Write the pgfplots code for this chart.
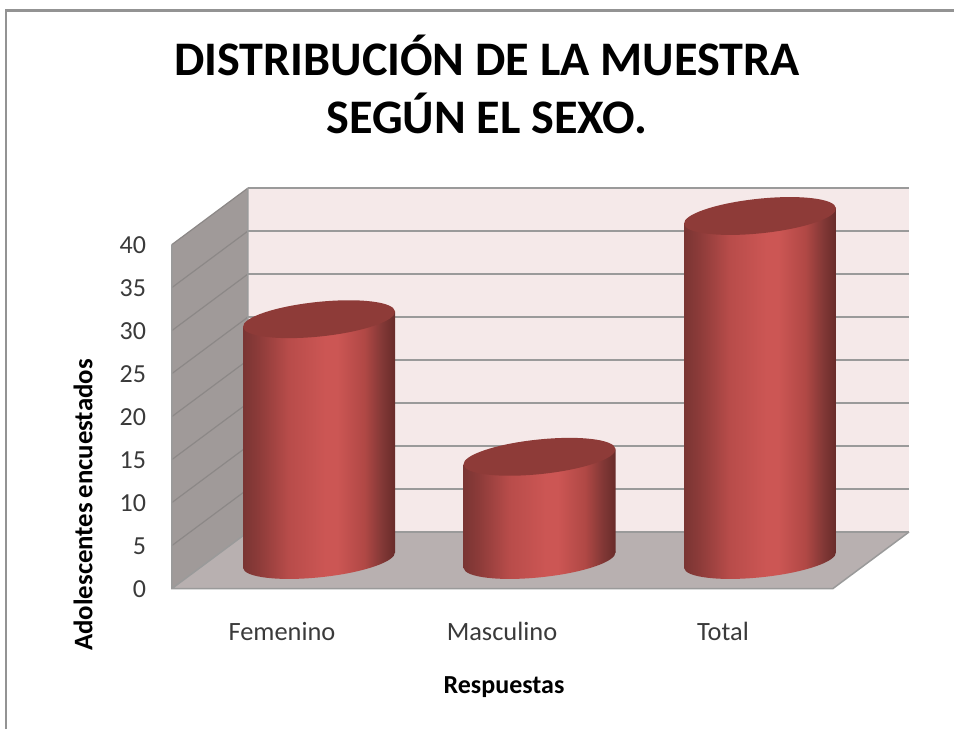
\documentclass[border=0pt]{standalone}
\usepackage{fontspec}
\setmainfont{Carlito}
\usepackage{pgfplots}
\pgfplotsset{compat=1.18}
\definecolor{wallback}{HTML}{F5E9E9}
\definecolor{wallside}{HTML}{A09A99}
\definecolor{floorc}{HTML}{B8B0B0}
\definecolor{gridc}{HTML}{9A9A9A}
\definecolor{sidegrid}{HTML}{8C8887}
\definecolor{topc}{HTML}{8E3B38}
\definecolor{txt}{HTML}{3A3A3A}
\definecolor{cylA}{HTML}{7A3533}
\definecolor{cylB}{HTML}{8C3B39}
\definecolor{cylC}{HTML}{B84C4A}
\definecolor{cylE}{HTML}{CC5654}
\definecolor{cylD}{HTML}{B04845}
\definecolor{cylG}{HTML}{803735}
\definecolor{cylF}{HTML}{682C2A}
\pgfdeclarehorizontalshading{cyl}{100bp}{
  color(0bp)=(cylA); color(25bp)=(cylA); color(30bp)=(cylB); color(40bp)=(cylC);
  color(52bp)=(cylE); color(56bp)=(cylE); color(65bp)=(cylD); color(71bp)=(cylG);
  color(75bp)=(cylF); color(100bp)=(cylF)}
\pgfdeclareplotmark{cyltop}{%
  \pgfsetfillcolor{topc}%
  \pgfpathellipse{\pgfpointorigin}{\pgfpoint{76pt}{7.9pt}}{\pgfpoint{-1.8pt}{17.2pt}}%
  \pgfusepathqfill}
\pgfdeclareplotmark{cylbase}{%
  \pgfscope
  \pgfpathellipse{\pgfpointorigin}{\pgfpoint{76pt}{7.9pt}}{\pgfpoint{-1.8pt}{17.2pt}}%
  \pgfusepath{clip}%
  \pgfpathrectangle{\pgfpoint{-76pt}{-30pt}}{\pgfpoint{152pt}{60pt}}%
  \pgfshadepath{cyl}{0}%
  \pgfusepath{discard}%
  \endpgfscope}
\begin{document}
\begin{tikzpicture}
\useasboundingbox (-172pt,-140.5pt) rectangle (782pt,588.5pt);
\draw[color=gray!85,line width=2.5pt] (-166pt,-140.5pt) -- (-166pt,578pt) -- (782pt,578pt);
\begin{axis}[
  at={(0pt,0pt)},anchor=south west,scale only axis,
  width=737pt,height=400.5pt,
  xmin=172,xmax=909,ymin=0,ymax=46.57,
  clip=false,
  unbounded coords=jump,
  axis line style={draw=none},
  major tick length=0pt,
  xtick={282,502,723},
  xticklabels={Femenino,Masculino,Total},
  ytick={0,5,10,15,20,25,30,35,40},
  /pgf/number format/assume math mode=true,
  y tick label style={font=\fontsize{26}{28}\selectfont,text=txt,xshift=-22.5pt,yshift=-1pt},
  x tick label style={font=\fontsize{26.4}{28}\selectfont,text=txt,yshift=-30.5pt},
  title={DISTRIBUCIÓN DE LA MUESTRA\\SEGÚN EL SEXO.},
  title style={font=\fontsize{48.2}{58}\selectfont\bfseries,align=center,anchor=center,at={(0.4274,1.2443)}},
  xlabel={Respuestas},
  xlabel style={font=\fontsize{26}{28}\selectfont\bfseries,anchor=center,at={(0.4505,-0.2454)}},
  ylabel={Adolescentes\hspace{.17em}encuestados},
  ylabel style={font=\fontsize{26.8}{29}\selectfont\bfseries,anchor=center,rotate=0,at={(-0.1208,0.2085)}},
]
\addplot[fill=wallback,draw=none] coordinates {(248,6.57)(909,6.57)(909,46.57)(248,46.57)};
\addplot[fill=wallside,draw=none] coordinates {(172,0)(248,6.57)(248,46.57)(172,40)};
\addplot[fill=floorc,draw=none] coordinates {(172,0)(833,0)(909,6.57)(248,6.57)};
\addplot[color=sidegrid,line width=1.2pt,mark=none] coordinates {
 (172,5)(248,11.57) (nan,nan) (172,10)(248,16.57) (nan,nan) (172,15)(248,21.57) (nan,nan)
 (172,20)(248,26.57) (nan,nan) (172,25)(248,31.57) (nan,nan) (172,30)(248,36.57) (nan,nan)
 (172,35)(248,41.57) (nan,nan) (172,40)(248,46.57)};
\addplot[color=gridc,line width=2pt,mark=none] coordinates {
 (248,6.57)(909,6.57) (nan,nan) (248,11.57)(909,11.57) (nan,nan) (248,16.57)(909,16.57) (nan,nan)
 (248,21.57)(909,21.57) (nan,nan) (248,26.57)(909,26.57) (nan,nan) (248,31.57)(909,31.57) (nan,nan)
 (248,36.57)(909,36.57) (nan,nan) (248,41.57)(909,41.57) (nan,nan) (248,46.57)(909,46.57)};
\addplot[color=gridc,line width=1.5pt,mark=none] coordinates {
 (172,40)(172,0)(833,0)(909,6.57) (nan,nan) (172,0)(248,6.57)(248,46.57)};
\end{axis}
\begin{axis}[
  at={(0pt,0pt)},anchor=south west,scale only axis,
  width=737pt,height=400.5pt,
  xmin=172,xmax=909,ymin=-3.314,ymax=43.256,
  clip=false,hide axis,
]
\addplot[only marks,mark=cylbase] coordinates {(319,0)(539.5,0)(760,0)};
\addplot[draw=none,shading=cyl] coordinates {(243,-0.87)(395,0.87)(395,28.87)(243,27.13)};
\addplot[draw=none,shading=cyl] coordinates {(463.5,-0.87)(615.5,0.87)(615.5,12.87)(463.5,11.13)};
\addplot[draw=none,shading=cyl] coordinates {(684,-0.87)(836,0.87)(836,40.87)(684,39.13)};
\addplot[only marks,mark=cyltop] coordinates {(319,28)(539.5,12)(760,40)};
\end{axis}
\end{tikzpicture}
\end{document}
